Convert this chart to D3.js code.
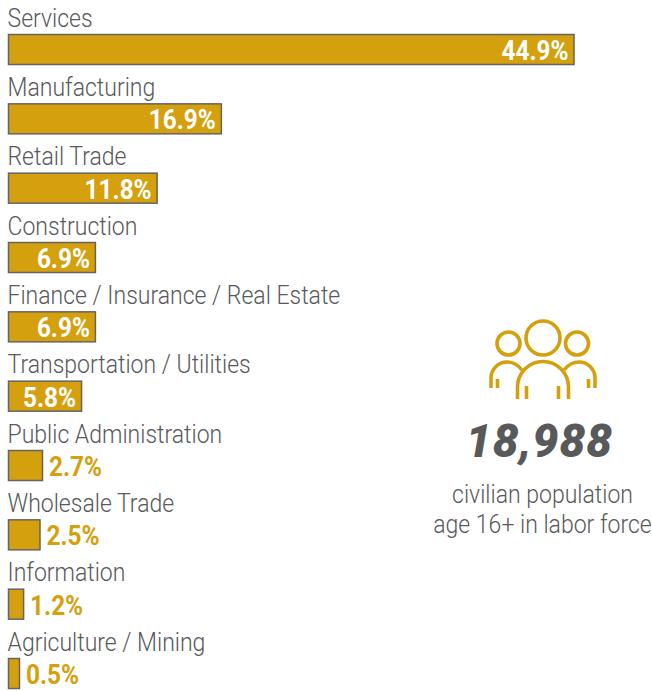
<!DOCTYPE html>
<html>
<head>
<meta charset="utf-8">
<script src="https://cdn.jsdelivr.net/npm/d3@7"></script>
<style>
  html, body { margin: 0; padding: 0; background: #fff; }
  svg { display: block; }
  .lbl { font-family: Roboto, sans-serif; font-size: 26px; font-weight: 300; fill: #58595b; }
  .val { font-family: Roboto, sans-serif; font-size: 28px; font-weight: 700; }
</style>
</head>
<body>
<div id="graph"></div>
<script>
let categories = ["Services", "Manufacturing", "Retail Trade", "Construction",
  "Finance / Insurance / Real Estate", "Transportation / Utilities",
  "Public Administration", "Wholesale Trade", "Information", "Agriculture / Mining"];
let shares = [44.9, 16.9, 11.8, 6.9, 6.9, 5.8, 2.7, 2.5, 1.2, 0.5];
let shareLabels = ["44.9%", "16.9%", "11.8%", "6.9%", "6.9%", "5.8%", "2.7%", "2.5%", "1.2%", "0.5%"];
let laborForce = "18,988";
let captionLines = ["civilian population", "age 16+ in labor force"];

let gold = "#d4a00e";
let grey = "#636466";

var svg = d3.select("#graph").append("svg").attr("width", 652).attr("height", 691);

// scale: 44.9% runs from x=8 to x=574
var x = d3.scaleLinear().domain([0, 44.9]).range([8, 573.5]);
// top of each bar
var y = d3.scalePoint().domain(categories).range([34, 658]);
var barH = 30;

// no condensed font installed, so squeeze the text sideways
function squeezed(cls, px, py, sx, t) {
  return svg.append("text").attr("class", cls)
    .attr("transform", `translate(${px}, ${py}) scale(${sx}, 1)`)
    .text(t);
}

categories.forEach(function (c, i) {
  var top = y(c);
  // smallest bar is wider than its value, same as the original
  var w = Math.max(x(shares[i]) - x(0), 11);

  squeezed("lbl", 7.5, top - 7.5, 0.885, c);

  svg.append("rect")
    .attr("x", 8.5).attr("y", top + 0.5)
    .attr("width", w).attr("height", barH)
    .attr("fill", gold).attr("stroke", grey).attr("stroke-width", 1.5);

  var inside = shares[i] > 5;
  squeezed("val", inside ? 8 + w - 5 : 8 + w + 7, top + 26, 0.87, shareLabels[i])
    .attr("text-anchor", inside ? "end" : "start")
    .attr("fill", inside ? "#fff" : gold);
});

// people icon
var icon = svg.append("g").attr("fill", "none").attr("stroke", gold)
  .attr("stroke-width", 3.6);
icon.append("circle").attr("cx", 543).attr("cy", 338).attr("r", 17);
icon.append("circle").attr("cx", 508.5).attr("cy", 343.5).attr("r", 11.5);
icon.append("circle").attr("cx", 577).attr("cy", 343.5).attr("r", 11.5);
icon.append("path").attr("d", "M517.5,399V387A25.5,25.5 0 0 1 568.5,387V399");
icon.append("path").attr("d", "M526.5,386V399M558.5,386V399");
icon.append("path").attr("d", "M491,388V378A16,16 0 0 1 507,362C513,362 518,365 522,370");
icon.append("path").attr("d", "M595,388V378A16,16 0 0 0 579,362C573,362 568,365 564,370");
icon.append("path").attr("d", "M497.5,379V388M588.5,379V388");

svg.append("text")
  .attr("x", 539.5).attr("y", 457)
  .attr("text-anchor", "middle")
  .style("font-family", "Roboto, sans-serif")
  .style("font-size", "46px").style("font-weight", 900).style("font-style", "italic")
  .style("letter-spacing", "1px")
  .attr("fill", "#58595b")
  .text(laborForce);

captionLines.forEach(function (t, i) {
  squeezed("lbl", 542.5, 503 + i * 30, 0.885, t).attr("text-anchor", "middle");
});
</script>
</body>
</html>
